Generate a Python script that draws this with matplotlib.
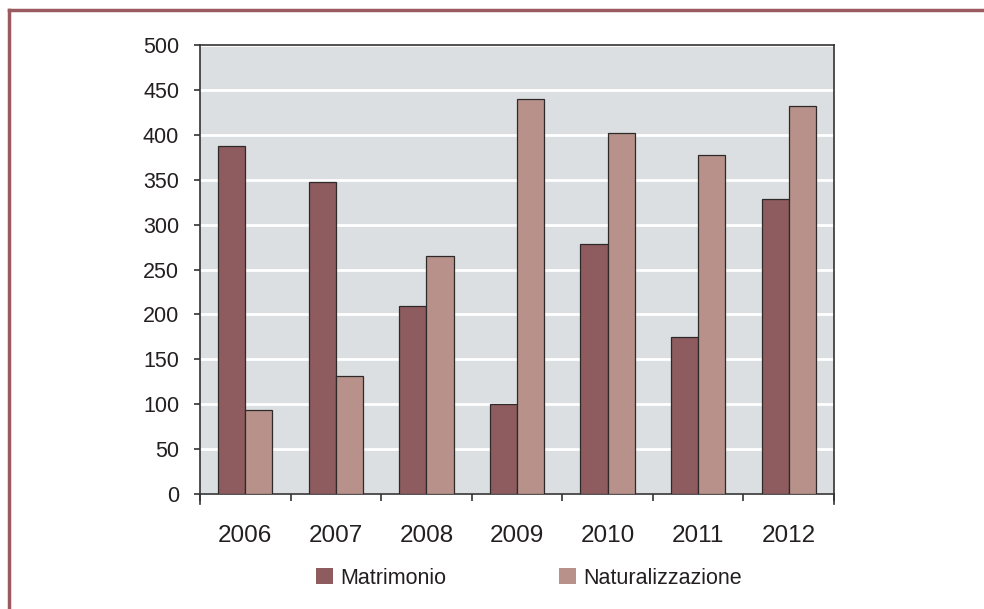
import numpy as np
import matplotlib.pyplot as plt
from matplotlib.lines import Line2D

plt.rcParams['font.family'] = ['Liberation Sans', 'DejaVu Sans']

# dati
anni = ['2006', '2007', '2008', '2009', '2010', '2011', '2012']
matrimonio = [388, 347, 209, 100, 278, 175, 328]
naturalizzazione = [94, 131, 265, 440, 402, 377, 432]

col_matr = '#8E5C5F'
col_nat = '#B8918B'
testo = '#231F20'

fig = plt.figure(figsize=(9.84, 6.09), dpi=100)
ax = fig.add_axes([200 / 984, 1 - 494 / 609, 634 / 984, 449 / 609])
ax.set_facecolor('#DCDFE2')

x = np.arange(len(anni))
w = 0.3
ax.bar(x - w / 2, matrimonio, w, color=col_matr, edgecolor='#2E2A2A', linewidth=0.9,
       label='Matrimonio', zorder=3)
ax.bar(x + w / 2, naturalizzazione, w, color=col_nat, edgecolor='#2E2A2A', linewidth=0.9,
       label='Naturalizzazione', zorder=3)

ax.set_xlim(-0.5, len(anni) - 0.5)
ax.set_ylim(0, 500)
ax.set_yticks(np.arange(0, 501, 50))
ax.yaxis.grid(True, color='white', linewidth=2, zorder=1)
ax.set_axisbelow(True)

# tick principali ai confini dei gruppi, etichette al centro
ax.set_xticks(np.arange(-0.5, len(anni), 1.0))
ax.set_xticklabels([])
ax.set_xticks(x, minor=True)
ax.set_xticklabels(anni, minor=True, fontsize=17.5, color=testo)
ax.tick_params(axis='x', which='major', direction='out', length=5, width=1.2, color='#333333')
ax.tick_params(axis='x', which='minor', length=0, pad=22)
ax.tick_params(axis='y', direction='out', length=4, width=1.2, color='#333333',
               labelsize=15.5, labelcolor=testo, pad=11)

for s in ax.spines.values():
    s.set_color('#333333')
    s.set_linewidth(1.2)
# gli assi verticali scendono un po' sotto lo zero
ax.spines['left'].set_bounds(-11, 500)
ax.spines['right'].set_bounds(-11, 500)

leg = fig.legend(loc='center', bbox_to_anchor=(529 / 984, 1 - 578 / 609), ncol=2,
                 frameon=False, fontsize=15.5, handlelength=0.8, handleheight=0.8,
                 handletextpad=0.35, columnspacing=5.2)
for t in leg.get_texts():
    t.set_color(testo)
for h in leg.legend_handles:
    h.set_edgecolor('none')

# cornice (solo lati superiore e sinistro visibili)
cornice = '#9B5A60'
fig.add_artist(Line2D([9 / 984, 1.0], [1 - 10 / 609, 1 - 10 / 609],
                      transform=fig.transFigure, color=cornice, linewidth=2.5))
fig.add_artist(Line2D([9 / 984, 9 / 984], [0.0, 1 - 10 / 609],
                      transform=fig.transFigure, color=cornice, linewidth=2.5))

fig.savefig('out.png', dpi=100)
plt.close(fig)
